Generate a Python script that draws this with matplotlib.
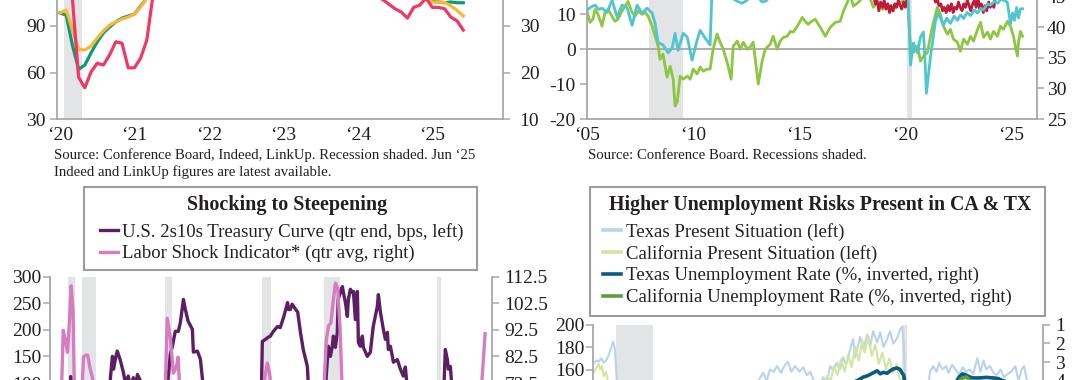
import numpy as np
import matplotlib
matplotlib.use("Agg")
import matplotlib.pyplot as plt
from matplotlib.patches import Rectangle

plt.rcParams['font.family'] = ['Liberation Serif', 'DejaVu Serif']
plt.rcParams['axes.unicode_minus'] = False

# ============================
# DATA
# ============================

# top left: monthly, Jan 2020 - Jun 2025
tl_green = [98.4, 97, 77.7, 62, 64.8, 72.6, 79.7, 85.5, 89.3, 92.6, 95.1, 96.4,
            97.7, 102.9, 108, 120, 128, 135, 140, 143, 145, 147, 148, 149,
            150, 151, 151, 150, 149, 147, 145, 143, 141, 139, 137, 135,
            133, 131, 129, 127, 125, 123, 121, 119, 118, 117, 116, 115,
            114, 113, 112, 111, 110, 110, 109, 109, 108.5, 108.5, 108.2, 107.5,
            106, 105.5, 105, 105.5, 105, 105]
tl_yellow = [98.4, 100.3, 87.4, 75, 74.5, 77, 82.2, 86.8, 90.6, 92.6, 94.5, 95.8,
             97.7, 102.2, 108, 115, 122, 128, 133, 137, 140, 142, 144, 145,
             146, 146, 145, 144, 142, 140, 138, 136, 134, 132, 130, 128,
             126, 124, 122, 120, 119, 118, 117, 116, 115, 114, 113, 112,
             111, 111, 110, 110, 109, 109, 109, 108.5, 108.5, 108.2, 108, 107.5,
             105.5, 105.5, 105.2, 103, 100, 96.5]
# right axis
tl_pink = [39.3, 38, 36, 19, 16.7, 20.1, 22, 21.6, 23.8, 26.6, 26.3, 21,
           21, 23.1, 27, 36.7, 41.7, 45, 46.7, 48.3, 49.3, 50, 50, 50,
           50, 50, 49.3, 48.7, 47.7, 46.7, 45.7, 44.7, 43.7, 42.7, 42, 41.3,
           40.7, 40.3, 40, 39.7, 39.3, 39, 38.7, 38.3, 38, 37.7, 37.3, 37.3,
           37.3, 37, 36.7, 36.3, 35.7, 34.7, 33.7, 33, 31.7, 34, 34.5, 36,
           34, 34, 33.7, 31.9, 31.1, 29.1]
tl_years = 2020 + np.arange(len(tl_green)) / 12
tl_xticks = [2020, 2021, 2022, 2023, 2024, 2025]
tl_xlabels = ['\u201820', '\u201821', '\u201822', '\u201823', '\u201824', '\u201825']

# top right
tr_green_years = [2005.0, 2005.14, 2005.28, 2005.38, 2005.52, 2005.71, 2005.85, 2005.99, 2006.18, 2006.32,
                  2006.46, 2006.65, 2006.79, 2006.93, 2007.12, 2007.26, 2007.41, 2007.59, 2007.74, 2007.88,
                  2008.07, 2008.21, 2008.35, 2008.44, 2008.58, 2008.77, 2008.92, 2009.06, 2009.15, 2009.25,
                  2009.39, 2009.53, 2009.72, 2009.86, 2010.0, 2010.19, 2010.33, 2010.47, 2010.66, 2010.8,
                  2010.94, 2011.13, 2011.27, 2011.42, 2011.6, 2011.79, 2011.89, 2012.08, 2012.22, 2012.36,
                  2012.55, 2012.69, 2012.83, 2013.07, 2013.25, 2013.4, 2013.63, 2013.77, 2013.96, 2014.1,
                  2014.25, 2014.43, 2014.58, 2014.72, 2014.91, 2015.14, 2015.28, 2015.42, 2015.52, 2015.75,
                  2015.99, 2016.23, 2016.46, 2016.7, 2016.93, 2017.08, 2017.26, 2017.41, 2017.55, 2017.78,
                  2018.02, 2018.25, 2018.49, 2018.68, 2018.92, 2019.15, 2019.39, 2019.62, 2019.86, 2020.09,
                  2020.24, 2020.38, 2020.57, 2020.71, 2020.85, 2021.04, 2021.18, 2021.32, 2021.51, 2021.65,
                  2021.79, 2021.98, 2022.12, 2022.26, 2022.45, 2022.59, 2022.74, 2022.92, 2023.07, 2023.21,
                  2023.4, 2023.54, 2023.68, 2023.87, 2024.01, 2024.15, 2024.34, 2024.48, 2024.62, 2024.81,
                  2024.95, 2025.09, 2025.28, 2025.33, 2025.42, 2025.52]
tr_green = [10.9, 7.7, 8.6, 11.4, 10.0, 6.6, 10.6, 11.4, 9.4, 8.0,
            8.6, 10.9, 12.3, 13.7, 10.6, 9.4, 10.9, 10.0, 10.6, 9.4,
            6.6, 3.7, 0.9, -2.9, -1.4, -8.0, -4.9, -8.6, -16.3, -15.1,
            -7.7, -8.6, -7.7, -8.6, -5.7, -7.1, -5.1, -6.3, -5.7, -5.7,
            0.0, 4.3, 2.0, 0.0, -3.7, -8.6, 0.9, 2.3, 0.0, 2.0,
            0.0, 0.6, 2.0, -10.0, -3.4, 0.0, 1.4, 3.7, 0.0, 2.3,
            3.4, 3.7, 5.1, 4.9, 6.6, 9.1, 8.0, 7.1, 7.7, 8.6,
            6.3, 3.7, 6.3, 7.7, 8.0, 10.9, 13.4, 15.5, 12.3, 13.4,
            15.0, 16.0, 12.0, 13.4, 11.4, 12.9, 10.9, 12.9, 13.7, 15.5,
            0.9, -0.9, 0.9, -3.4, -2.0, -0.9, 3.7, 7.7, 12.0, 10.0,
            6.6, 4.3, 5.7, 2.9, 2.0, -0.6, 2.9, 1.4, 3.7, 2.3,
            5.7, 7.7, 3.4, 4.9, 2.9, 5.1, 3.7, 6.6, 5.7, 8.0,
            6.6, 3.7, -2.0, 2.0, 5.1, 3.7]
# right axis
tr_cyan_years = [2005.0, 2005.2, 2005.38, 2005.55, 2005.71, 2005.94, 2006.18, 2006.42, 2006.65, 2006.89,
                 2007.12, 2007.36, 2007.59, 2007.83, 2008.07, 2008.21, 2008.35, 2008.58, 2008.82, 2009.01,
                 2009.15, 2009.29, 2009.53, 2009.72, 2009.95, 2010.19, 2010.33, 2010.57, 2010.8, 2010.9,
                 2011.2, 2011.5, 2011.8, 2012.1, 2012.3, 2012.5, 2012.7, 2013.0, 2013.25, 2013.45,
                 2013.7, 2014.2, 2015.0, 2016.0, 2017.0, 2018.0, 2019.0, 2019.9, 2020.14, 2020.24,
                 2020.38, 2020.57, 2020.71, 2020.85, 2020.94, 2020.99, 2021.18, 2021.42, 2021.56, 2021.79,
                 2021.95, 2022.12, 2022.3, 2022.45, 2022.6, 2022.74, 2022.9, 2023.07, 2023.25, 2023.4,
                 2023.55, 2023.68, 2023.85, 2024.01, 2024.2, 2024.34, 2024.5, 2024.62, 2024.8, 2024.95,
                 2025.05, 2025.14, 2025.24, 2025.33, 2025.42, 2025.52]
tr_cyan = [42.8, 43.3, 43.6, 42.9, 43.1, 42.4, 44.4, 41.6, 43.6, 43.2,
           40.3, 43.6, 42.3, 43.1, 42.3, 40.6, 37.5, 37.1, 35.8, 36.6,
           39.0, 36.2, 39.0, 38.4, 34.6, 37.9, 39.5, 38.2, 37.1, 47.0,
           46.0, 45.2, 44.8, 44.2, 43.9, 44.3, 44.9, 45.2, 44.1, 44.3,
           45.5, 47.0, 48.5, 49.0, 51.0, 53.0, 53.0, 52.0, 44.4, 33.8,
           37.4, 35.8, 38.4, 39.2, 33.5, 29.2, 35.1, 41.1, 42.3, 40.3,
           41.5, 40.6, 41.8, 41.1, 42.0, 41.4, 42.4, 41.9, 42.8, 42.3,
           43.1, 42.8, 43.8, 43.6, 44.2, 43.9, 44.6, 44.4, 44.1, 40.6,
           42.3, 41.1, 43.2, 41.5, 43.0, 43.0]
tr_red_years = [2018.5, 2018.58, 2018.66, 2018.75, 2018.83, 2018.92, 2019.0, 2019.08, 2019.17, 2019.25,
                2019.33, 2019.42, 2019.5, 2019.58, 2019.67, 2019.75, 2019.83, 2019.92, 2020.0, 2020.1,
                2020.2, 2021.25,
                2021.32, 2021.42, 2021.5, 2021.58, 2021.67, 2021.75, 2021.83, 2021.92, 2022.0, 2022.08,
                2022.17, 2022.25, 2022.33, 2022.42, 2022.5, 2022.58, 2022.67, 2022.75, 2022.83, 2022.92,
                2023.0, 2023.08, 2023.17, 2023.25, 2023.33, 2023.42, 2023.5, 2023.58, 2023.67, 2023.75,
                2023.83, 2023.92, 2024.0, 2024.08, 2024.17, 2024.25]
tr_red = [15.5, 13.0, 14.0, 11.0, 13.5, 12.0, 14.0, 11.5, 13.0, 10.5,
          12.5, 11.0, 13.0, 12.0, 14.0, 12.5, 11.5, 13.5, 12.0, 15.5,
          np.nan, np.nan,
          15.5, 13.5, 14.5, 12.5, 13.0, 11.0, 12.0, 10.5, 12.5, 11.0,
          13.0, 10.5, 12.0, 11.5, 13.5, 12.0, 11.0, 13.0, 12.0, 14.0,
          12.5, 11.0, 13.0, 14.0, 12.0, 14.5, 11.5, 13.0, 10.5, 12.5,
          11.0, 13.5, 12.0, 13.0, 12.0, 15.5]
tr_xticks = [2005, 2010, 2015, 2020, 2025]
tr_xlabels = ['\u201805', '\u201810', '\u201815', '\u201820', '\u201825']

# bottom left: quarterly
bl_purple_years = [1978.0, 1978.5, 1979.0, 1979.5, 1979.9, 1980.1, 1980.25, 1980.4, 1980.7, 1981.0,
                   1981.5, 1981.9, 1982.3, 1982.7, 1983.0, 1983.5, 1984.0, 1984.4, 1984.78, 1984.9,
                   1985.1, 1985.3, 1985.6, 1985.97, 1986.25, 1986.5, 1986.75, 1987.05, 1987.3, 1987.5,
                   1987.8, 1988.0, 1988.5, 1989.0, 1989.5, 1990.0, 1990.4, 1990.75, 1991.07, 1991.29,
                   1991.6, 1991.94, 1992.16, 1992.49, 1992.7, 1993.0, 1993.46, 1993.57, 1994.0, 1994.33,
                   1994.66, 1995.0, 1995.5, 1996.0, 1996.5, 1997.0, 1997.5, 1998.0, 1998.5, 1999.0,
                   1999.5, 2000.0, 2000.5, 2000.75, 2000.95, 2001.06, 2001.4, 2001.7, 2001.93, 2002.26,
                   2002.7, 2003.0, 2003.36, 2003.8, 2003.9, 2004.1, 2004.3, 2004.45, 2004.9, 2005.2,
                   2005.5, 2005.95, 2006.1, 2006.5, 2007.0, 2007.5, 2007.8, 2008.12, 2008.23, 2008.45,
                   2008.66, 2008.77, 2008.99, 2009.2, 2009.3, 2009.53, 2009.75, 2009.86, 2010.08, 2010.29,
                   2010.4, 2010.62, 2010.84, 2010.95, 2011.16, 2011.38, 2011.49, 2011.7, 2011.92, 2012.03,
                   2012.46, 2012.79, 2013.1, 2013.55, 2013.66, 2013.88, 2014.2, 2014.42, 2014.64, 2014.74,
                   2014.96, 2015.18, 2015.29, 2015.72, 2016.05, 2016.37, 2016.59, 2016.8, 2017.2, 2017.6,
                   2018.0, 2018.5, 2019.0, 2019.5, 2019.8, 2020.2, 2020.5, 2020.75, 2020.93, 2021.15,
                   2021.26, 2021.48, 2021.7, 2022.0, 2022.3, 2022.6, 2022.9, 2023.2, 2023.5, 2023.8,
                   2024.2, 2024.5, 2024.75, 2025.0, 2025.25, 2025.5]
bl_purple = [20, -10, -40, -60, -100, 50, 112, 60, -50, -100,
             -60, -20, 10, 60, 80, 70, 60, 80, 150, 126,
             145, 160, 145, 120, 95, 113, 90, 110, 95, 116,
             105, 80, 50, 0, 10, 20, 60, 95, 154, 169,
             197, 197, 214, 257, 238, 216, 201, 158, 160, 145,
             90, 30, 40, 60, 50, 50, 30, 20, 10, 30,
             20, -10, -30, 20, 80, 178, 182, 186, 188, 197,
             206, 204, 223, 251, 238, 238, 248, 244, 233, 195,
             163, 131, 80, 0, -10, 20, 60, 144, 169, 150,
             169, 188, 167, 195, 257, 270, 281, 270, 251, 225,
             257, 276, 270, 272, 219, 272, 176, 169, 188, 167,
             150, 158, 206, 244, 266, 233, 201, 182, 195, 163,
             169, 150, 139, 144, 126, 113, 130, 90, 80, 70,
             50, 30, 15, -5, 20, 50, 60, 80, 163, 144,
             126, 131, 80, 40, 5, -40, -60, -60, -100, -40,
             -40, -30, 20, 30, 50, 55]
# right axis
bl_pink_years = [1978.0, 1978.5, 1979.0, 1979.25, 1979.44, 1979.7, 1979.9, 1980.1, 1980.3, 1980.5,
                 1980.65, 1980.9, 1981.2, 1981.5, 1981.63, 1981.9, 1982.1, 1982.35, 1982.6, 1982.85,
                 1983.2, 1985.0, 1987.0, 1989.0, 1990.25, 1990.5, 1990.73, 1991.06, 1991.4, 1991.65,
                 1991.8, 1991.9, 1992.1, 1992.5, 1995.0, 1998.0, 2000.5, 2001.0, 2001.3, 2001.6,
                 2001.85, 2002.1, 2002.5, 2005.0, 2007.5, 2007.75, 2008.0, 2008.25, 2008.5, 2008.75,
                 2009.0, 2009.25, 2009.5, 2009.75, 2010.2, 2013.0, 2016.0, 2019.0, 2021.0, 2023.0,
                 2024.5, 2024.75, 2025.0, 2025.25]
bl_pink = [60, 62, 65, 70, 92.3, 88, 84, 95, 109, 100,
           70, 62, 65, 72, 82.2, 83, 82.9, 78, 74.7, 68,
           62, 58, 60, 57, 60, 68, 96.8, 89.7, 76.2, 78,
           79.9, 82.2, 70, 63, 58, 57, 60, 68, 74, 80,
           76, 68, 63, 57, 62, 70, 88.5, 94, 95, 103,
           110, 108, 93, 68, 62, 58, 57, 56, 58, 57,
           62, 66, 78, 91]
bl_recessions = [(1980.0, 1980.75), (1981.5, 1983.0), (1990.5, 1991.25),
                 (2001.0, 2002.0), (2007.75, 2009.5), (2020.0, 2020.5)]

# bottom right
br_tx_ps_years = [2007.0, 2007.1, 2007.2, 2007.3, 2007.4, 2007.5, 2007.6, 2007.7, 2007.8, 2007.88,
                  2007.96, 2008.1, 2008.3, 2008.6, 2008.9, 2009.2, 2009.5, 2010.0, 2010.5, 2011.0,
                  2011.5, 2012.0, 2012.5, 2013.0, 2013.5, 2013.9, 2014.15, 2014.3, 2014.44, 2014.6,
                  2014.74, 2014.9, 2015.08, 2015.2, 2015.35, 2015.5, 2015.7, 2015.85, 2016.0, 2016.15,
                  2016.3, 2016.45, 2016.55, 2016.69, 2016.85, 2016.99, 2017.1, 2017.28, 2017.4, 2017.54,
                  2017.66, 2017.84, 2017.96, 2018.05, 2018.26, 2018.4, 2018.56, 2018.68, 2018.81, 2018.98,
                  2019.11, 2019.25, 2019.4, 2019.53, 2019.66, 2019.83, 2019.95, 2020.04, 2020.1, 2020.16,
                  2020.3, 2020.5, 2020.8, 2021.0, 2021.22, 2021.35, 2021.5, 2021.6, 2021.75, 2021.9,
                  2022.0, 2022.15, 2022.3, 2022.45, 2022.6, 2022.75, 2022.9, 2023.05, 2023.22, 2023.35,
                  2023.48, 2023.6, 2023.75, 2023.9, 2024.05, 2024.2, 2024.35, 2024.5, 2024.65, 2024.83,
                  2024.96, 2025.1, 2025.2, 2025.3, 2025.45]
br_tx_ps = [166, 168, 167, 170, 166, 168, 172, 178, 185, 178,
            150, 140, 135, 120, 95, 70, 60, 65, 75, 85,
            95, 105, 115, 125, 140, 148, 157, 150, 160, 158,
            163, 157, 164, 167, 158, 163, 158, 162, 155, 158,
            150, 148, 145, 153, 149, 163, 160, 166, 160, 171,
            164, 178, 187, 171, 189, 178, 191, 180, 194, 184,
            193, 180, 187, 194, 183, 188, 196, 198, 184, 150,
            110, 95, 110, 125, 158, 163, 158, 166, 160, 163,
            157, 164, 160, 155, 162, 158, 160, 156, 170, 158,
            168, 160, 163, 157, 155, 160, 153, 156, 158, 163,
            150, 160, 163, 152, 145]
br_ca_ps_years = [2007.0, 2007.1, 2007.18, 2007.25, 2007.33, 2007.4, 2007.5, 2007.6, 2007.8, 2008.2,
                  2008.6, 2009.0, 2009.5, 2010.0, 2011.0, 2012.0, 2013.0, 2014.0, 2015.0, 2015.8,
                  2016.2, 2016.5, 2016.7, 2016.85, 2017.0, 2017.15, 2017.3, 2017.45, 2017.6, 2017.75,
                  2017.9, 2018.05, 2018.2, 2018.35, 2018.45, 2018.6, 2018.75, 2018.9, 2019.05, 2019.2,
                  2019.35, 2019.5, 2019.65, 2019.8, 2019.9, 2020.0, 2020.2, 2020.4, 2020.8, 2021.5,
                  2022.0, 2022.5, 2023.0, 2024.0, 2025.0, 2025.45]
br_ca_ps = [158, 162, 165, 160, 163, 154, 158, 148, 140, 120,
            90, 60, 45, 45, 55, 65, 85, 105, 125, 138,
            143, 150, 147, 154, 150, 163, 155, 169, 158, 173,
            162, 180, 168, 186, 175, 190, 172, 182, 165, 175,
            160, 170, 157, 165, 154, 150, 120, 60, 75, 110,
            125, 120, 115, 110, 105, 100]
# right axis, inverted
br_tx_ur_years = [2007.0, 2007.5, 2008.0, 2008.5, 2009.0, 2009.5, 2010.0, 2011.0, 2012.0, 2013.0,
                  2014.0, 2015.0, 2015.5, 2016.0, 2016.5, 2017.0, 2017.5, 2017.9, 2018.13, 2018.26,
                  2018.4, 2018.56, 2018.7, 2018.81, 2018.98, 2019.11, 2019.25, 2019.4, 2019.53, 2019.66,
                  2019.83, 2019.95, 2020.04, 2020.1, 2020.2, 2020.3, 2020.5, 2020.8, 2021.0, 2021.5,
                  2022.0, 2022.3, 2022.45, 2022.6, 2022.75, 2022.9, 2023.05, 2023.3, 2023.6, 2023.9,
                  2024.1, 2024.3, 2024.5, 2024.75, 2025.0, 2025.45]
br_tx_ur = [4.3, 4.4, 4.5, 4.9, 6.0, 7.5, 8.2, 8.0, 6.9, 6.4,
            5.4, 4.4, 4.3, 4.5, 4.6, 4.6, 4.3, 4.1, 4.0, 3.9,
            3.8, 3.74, 3.65, 3.58, 3.47, 3.63, 3.55, 3.6, 3.47, 3.37,
            3.32, 3.4, 3.6, 3.7, 4.5, 12.5, 9.0, 7.5, 7.0, 5.8,
            4.4, 4.1, 3.8, 3.63, 3.7, 3.8, 3.85, 3.85, 3.82, 3.85,
            3.88, 4.0, 4.05, 4.1, 4.1, 4.1]
br_ca_ur_years = [2007.0, 2008.0, 2009.0, 2010.0, 2011.0, 2012.0, 2013.0, 2014.0, 2015.0, 2016.0,
                  2017.0, 2018.0, 2019.0, 2019.9, 2020.2, 2020.3, 2020.6, 2021.0, 2021.5, 2022.0,
                  2022.3, 2022.45, 2022.6, 2022.75, 2022.9, 2023.1, 2023.5, 2024.0, 2024.5, 2025.0,
                  2025.45]
br_ca_ur = [4.9, 6.0, 9.5, 12.2, 11.8, 10.5, 9.0, 7.5, 6.2, 5.5,
            4.8, 4.3, 4.1, 4.1, 5.0, 13.0, 12.0, 9.0, 7.8, 5.5,
            4.3, 4.0, 3.85, 3.8, 3.95, 4.3, 4.6, 5.2, 5.4, 5.4,
            5.5]

# ============================
# STYLE
# ============================

W, H = 1080, 380
TXT = '#231f20'
AX_COL = '#a8a8a8'
SHADE = '#e3e4e6'
TICK_FS = 14
LEG_FS = 13.5

fig = plt.figure(figsize=(W / 100, H / 100), dpi=100)


def axes_px(left, right, top, bottom):
    return fig.add_axes([left / W, 1 - bottom / H, (right - left) / W, (bottom - top) / H])


def style(ax, ax2, lpad=2, rpad=3):
    for a in (ax, ax2):
        for s in a.spines.values():
            s.set_visible(False)
        a.set_facecolor('none')
    for s in (ax.spines['left'], ax.spines['bottom'], ax2.spines['right']):
        s.set_visible(True)
        s.set_color(AX_COL)
        s.set_linewidth(1.3)
    ax.tick_params(axis='y', length=5, width=1.1, color=AX_COL, labelsize=TICK_FS, pad=lpad, labelcolor=TXT)
    ax2.tick_params(axis='y', length=5, width=1.1, color=AX_COL, labelsize=TICK_FS, pad=rpad, labelcolor=TXT)
    ax.tick_params(axis='x', length=0, labelsize=TICK_FS, pad=6, labelcolor=TXT)


# ---- top left ----
ax = axes_px(57, 503, -67, 119)
ax2 = ax.twinx()
ax.axvspan(2020.05, 2020.3, color=SHADE, lw=0, zorder=0)
ax.plot(tl_years, tl_green, color='#0a9c74', lw=2.3)
ax.plot(tl_years, tl_yellow, color='#f8b735', lw=2.3)
ax2.plot(tl_years, tl_pink, color='#ee3a62', lw=2.3)
ax.set_xlim(2019.96, 2025.95)
ax.set_ylim(30, 150)
ax.set_yticks([30, 60, 90, 120, 150])
ax2.set_ylim(10, 50)
ax2.set_yticks([10, 20, 30, 40, 50])
ax.set_xticks(tl_xticks, tl_xlabels)
style(ax, ax2, lpad=3, rpad=7)
fig.text(54 / W, 1 - 155 / H, 'Source: Conference Board, Indeed, LinkUp. Recession shaded. Jun \u201825',
         fontsize=10.6, color=TXT, va='center')
fig.text(54 / W, 1 - 172 / H, 'Indeed and LinkUp figures are latest available.',
         fontsize=10.6, color=TXT, va='center')

# ---- top right ----
ax = axes_px(587, 1037, -55.5, 119)
ax2 = ax.twinx()
for a, b in [(2007.92, 2009.5), (2020.08, 2020.33)]:
    ax.axvspan(a, b, color=SHADE, lw=0, zorder=0)
ax.axhline(0, color=AX_COL, lw=1.3, zorder=1)
ax.plot(tr_green_years, tr_green, color='#8dc63f', lw=2.0)
ax.plot(tr_red_years, tr_red, color='#c01a3a', lw=2.0)
ax2.plot(tr_cyan_years, tr_cyan, color='#4fc6ce', lw=2.0)
ax.set_xlim(2005.0, 2026.2)
ax.set_ylim(-20, 30)
ax.set_yticks([-20, -10, 0, 10, 20, 30])
ax2.set_ylim(25, 53.5)
ax2.set_yticks([25, 30, 35, 40, 45, 50])
ax.set_xticks(tr_xticks, tr_xlabels)
style(ax, ax2, lpad=3, rpad=2)
fig.text(588 / W, 1 - 155 / H, 'Source: Conference Board. Recessions shaded.',
         fontsize=10.6, color=TXT, va='center')

# ---- bottom left ----
ax = axes_px(50, 492, 276.5, 489.5)
ax2 = ax.twinx()
for a, b in bl_recessions:
    ax.axvspan(a, b, color=SHADE, lw=0, zorder=0)
l1, = ax.plot(bl_purple_years, bl_purple, color='#5c1f63', lw=2.4)
l2, = ax2.plot(bl_pink_years, bl_pink, color='#d67cc0', lw=2.4)
ax.set_xlim(1978.0, 2026.0)
ax.set_ylim(-100, 300)
ax.set_yticks(range(-100, 301, 50))
ax2.set_ylim(32.5, 112.5)
ax2.set_yticks([32.5, 42.5, 52.5, 62.5, 72.5, 82.5, 92.5, 102.5, 112.5])
ax2.set_yticklabels(['32.5', '42.5', '52.5', '62.5', '72.5', '82.5', '92.5', '102.5', '112.5'])
style(ax, ax2, lpad=1, rpad=4)
fig.add_artist(Rectangle((84 / W, 1 - 270 / H), (477 - 84) / W, (270 - 187) / H,
                         transform=fig.transFigure, fill=False, edgecolor='#9c9c9c', lw=1.5))
fig.text(287 / W, 1 - 205 / H, 'Shocking to Steepening', ha='center', va='center',
         fontsize=14.5, fontweight='bold', color=TXT)
leg = ax.legend([l1, l2], ['U.S. 2s10s Treasury Curve (qtr end, bps, left)',
                           'Labor Shock Indicator* (qtr avg, right)'],
                loc='upper left', bbox_to_anchor=(100 / W, 1 - 223 / H), bbox_transform=fig.transFigure,
                frameon=False, fontsize=LEG_FS, handlelength=0.98, handletextpad=0.22,
                labelspacing=0.22, borderpad=0, borderaxespad=0)
for t in leg.get_texts():
    t.set_color(TXT)

# ---- bottom right ----
ax = axes_px(593, 1043, 324.5, 549.5)
ax2 = ax.twinx()
for a, b in [(2007.92, 2009.5), (2020.05, 2020.25)]:
    ax.axvspan(a, b, color=SHADE, lw=0, zorder=0)
h1, = ax.plot(br_tx_ps_years, br_tx_ps, color='#b9d3ef', lw=1.5)
h2, = ax.plot(br_ca_ps_years, br_ca_ps, color='#d2e69e', lw=1.5)
h3, = ax2.plot(br_tx_ur_years, br_tx_ur, color='#0b5b7d', lw=2.6)
h4, = ax2.plot(br_ca_ur_years, br_ca_ur, color='#5c9f3c', lw=2.6)
ax.set_xlim(2006.95, 2026.0)
ax.set_ylim(0, 200)
ax.set_yticks(range(0, 201, 20))
ax2.set_ylim(13, 1)
ax2.set_yticks(range(1, 14))
style(ax, ax2, lpad=1, rpad=4)
fig.add_artist(Rectangle((589.5 / W, 1 - 316 / H), (1045 - 589.5) / W, (316 - 187) / H,
                         transform=fig.transFigure, fill=False, edgecolor='#9c9c9c', lw=1.5))
fig.text(820 / W, 1 - 205 / H, 'Higher Unemployment Risks Present in CA & TX', ha='center', va='center',
         fontsize=14.3, fontweight='bold', color=TXT)
leg = ax2.legend([h1, h2, h3, h4], ['Texas Present Situation (left)',
                                    'California Present Situation (left)',
                                    'Texas Unemployment Rate (%, inverted, right)',
                                    'California Unemployment Rate (%, inverted, right)'],
                 loc='upper left', bbox_to_anchor=(603 / W, 1 - 223 / H), bbox_transform=fig.transFigure,
                 frameon=False, fontsize=LEG_FS, handlelength=0.98, handletextpad=0.22,
                 labelspacing=0.22, borderpad=0, borderaxespad=0)
for t in leg.get_texts():
    t.set_color(TXT)
for ln in leg.get_lines():
    ln.set_linewidth(2.6)

fig.savefig('out.png', dpi=100)
